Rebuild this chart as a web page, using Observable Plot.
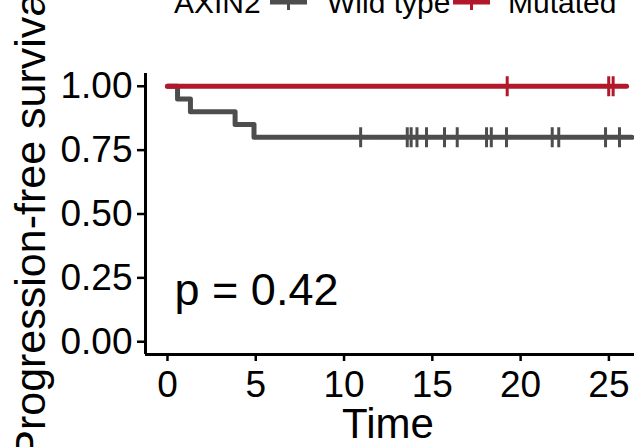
<!DOCTYPE html>
<html>
<head>
<meta charset="utf-8">
<script src="https://cdn.jsdelivr.net/npm/d3@7"></script>
<script src="https://cdn.jsdelivr.net/npm/@observablehq/plot@0.6"></script>
<style>
  html, body { margin: 0; padding: 0; background: #fff; }
  #wrap { position: relative; width: 634px; height: 447px; overflow: hidden; font-family: "Liberation Sans", Arial, sans-serif; }
  #wrap svg.overlay { position: absolute; left: 0; top: 0; pointer-events: none; }
</style>
</head>
<body>
<div id="wrap"></div>
<script>
// ---- data ----
const groups = ["Wild type", "Mutated"];
const groupColors = ["#4D4D4D", "#B2182B"];
const legendTitle = "AXIN2";
const xLabel = "Time";
const yLabel = "Progression-free survival";
const pLabel = "p = 0.42";

// Kaplan-Meier step points (time, survival)
const wildTimes = [0, 0.57, 1.3, 3.83, 4.9, 26.3];
const wildSurv  = [1, 0.95, 0.90, 0.85, 0.80, 0.80];
const mutTimes  = [0, 26.0];
const mutSurv   = [1, 1];

// censor times
const wildCensor = [10.94, 13.58, 13.8, 14.13, 14.67, 15.69, 16.41, 18.07, 18.34, 19.2, 21.79, 22.16, 24.81, 25.6];
const wildCensorSurv = 0.80;
const mutCensor = [19.24, 24.99, 25.24];
const mutCensorSurv = 1.0;

const xTicks = [0, 5, 10, 15, 20, 25];
const yTicks = [0, 0.25, 0.5, 0.75, 1];

// ---- build tables ----
const curves = [
  ...wildTimes.map((t, i) => ({time: t, surv: wildSurv[i], group: groups[0]})),
  ...mutTimes.map((t, i) => ({time: t, surv: mutSurv[i], group: groups[1]}))
];
const censors = [
  ...wildCensor.map(t => ({time: t, surv: wildCensorSurv, group: groups[0]})),
  ...mutCensor.map(t => ({time: t, surv: mutCensorSurv, group: groups[1]}))
];

const xDomain = [-1.245, 26.45];
const yDomain = [-0.05, 1.05];

const chart = Plot.plot({
  width: 634,
  height: 447,
  marginLeft: 145,
  marginRight: 0,
  marginTop: 73,
  marginBottom: 93,
  style: {fontFamily: '"Liberation Sans", Arial, sans-serif', background: "#fff", overflow: "visible"},
  x: {domain: xDomain},
  y: {domain: yDomain},
  color: {domain: groups, range: groupColors},
  marks: [
    Plot.axisX({ticks: xTicks, tickSize: 7, tickPadding: 9, fontSize: 37, label: null, strokeWidth: 2.5, color: "#000"}),
    Plot.axisY({ticks: yTicks, tickSize: 8, tickPadding: 5, fontSize: 37, label: null, strokeWidth: 2.5, tickFormat: d3.format(".2f"), color: "#000"}),
    Plot.ruleX([xDomain[0]], {stroke: "#000", strokeWidth: 3}),
    Plot.ruleY([yDomain[0]], {stroke: "#000", strokeWidth: 3}),
    Plot.line(curves, {x: "time", y: "surv", z: "group", stroke: "group", curve: "step-after", strokeWidth: 5}),
    Plot.dot(censors, {x: "time", y: "surv", stroke: "group", symbol: "plus", r: 6.5, strokeWidth: 3}),
    Plot.text([pLabel], {x: d => 0.4, y: d => 0.2, text: d => d, textAnchor: "start", fontSize: 45, fill: "#000"})
  ]
});

const wrap = document.getElementById("wrap");
wrap.appendChild(chart);

// overlay for titles and legend
const ns = "http://www.w3.org/2000/svg";
const ov = document.createElementNS(ns, "svg");
ov.setAttribute("class", "overlay");
ov.setAttribute("width", 634);
ov.setAttribute("height", 447);
ov.setAttribute("font-family", '"Liberation Sans", Arial, sans-serif');
function txt(s, attrs) {
  const t = document.createElementNS(ns, "text");
  for (const k in attrs) t.setAttribute(k, attrs[k]);
  t.textContent = s;
  ov.appendChild(t);
  return t;
}
function el(name, attrs) {
  const e = document.createElementNS(ns, name);
  for (const k in attrs) e.setAttribute(k, attrs[k]);
  ov.appendChild(e);
  return e;
}
// x title
txt(xLabel, {x: 388, y: 438, "text-anchor": "middle", "font-size": 42, fill: "#000"});
// y title
txt(yLabel, {transform: "translate(45,221) rotate(-90)", "text-anchor": "middle", "font-size": 43, fill: "#000"});
// legend
txt(legendTitle, {x: 174, y: 13, "font-size": 30, fill: "#000"});
const keyX = [270, 453];
const labX = [327, 508];
groups.forEach((g, i) => {
  el("line", {x1: keyX[i], x2: keyX[i] + 37, y1: 2, y2: 2, stroke: groupColors[i], "stroke-width": 5});
  el("line", {x1: keyX[i] + 18.5, x2: keyX[i] + 18.5, y1: -7, y2: 10, stroke: groupColors[i], "stroke-width": 3});
  txt(g, {x: labX[i], y: 13, "font-size": 30, fill: "#000"});
});
wrap.appendChild(ov);
</script>
</body>
</html>
